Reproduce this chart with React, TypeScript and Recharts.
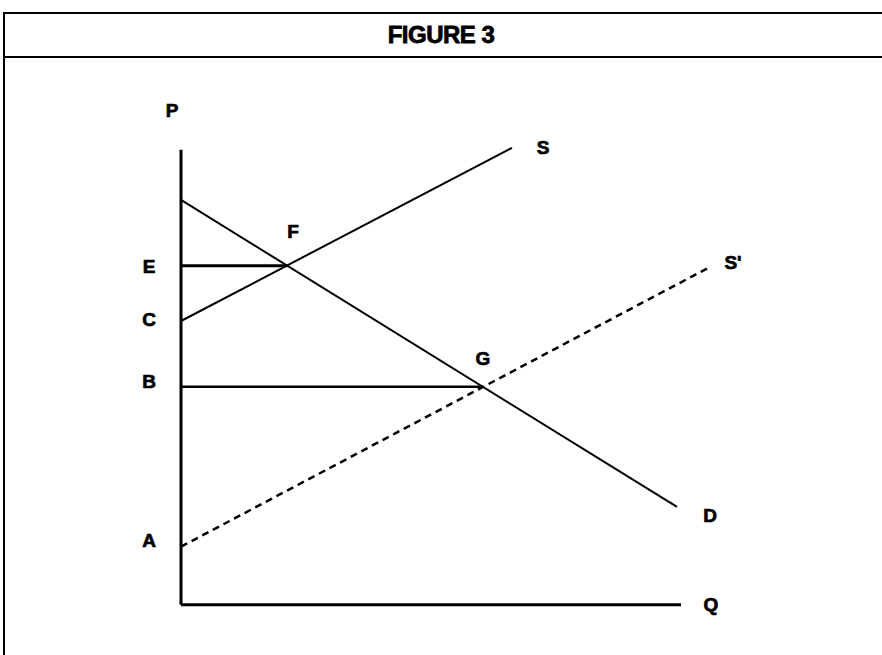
import { ComposedChart, Line, Scatter, XAxis, YAxis } from 'recharts';

// all values in chart units: q along the quantity axis, p along the price axis
const priceAxis = [{ q: 0, p: 0 }, { q: 0, p: 99.6 }];
const quantityAxis = [{ q: 0, p: 0 }, { q: 100, p: 0 }];
const demand = [{ q: 0, p: 88.6 }, { q: 99.2, p: 21.4 }];
const supply = [{ q: 0, p: 62.1 }, { q: 66.2, p: 100 }];
const supplyShifted = [{ q: 0, p: 12.7 }, { q: 105.4, p: 73.7 }];
const priceE = [{ q: 0, p: 74.2 }, { q: 21.2, p: 74.2 }];
const priceB = [{ q: 0, p: 47.7 }, { q: 60.4, p: 47.7 }];

const labels = [
  { name: 'P', q: -1.8, p: 108.1 },
  { name: 'E', q: -6.4, p: 74.0 },
  { name: 'C', q: -6.4, p: 62.4 },
  { name: 'B', q: -6.4, p: 48.8 },
  { name: 'A', q: -6.4, p: 14.0 },
  { name: 'F', q: 22.4, p: 81.6 },
  { name: 'G', q: 60.4, p: 53.8 },
  { name: 'S', q: 72.4, p: 100.0 },
  { name: "S'", q: 110.4, p: 74.9 },
  { name: 'D', q: 105.8, p: 19.5 },
  { name: 'Q', q: 106, p: 0 },
];

const font = '"Liberation Sans", Arial, sans-serif';

const LabelText = (props: any) => (
  <text
    x={props.cx}
    y={props.cy}
    textAnchor="middle"
    dominantBaseline="central"
    fontFamily={font}
    fontWeight={700}
    fontSize={19}
    fill="#000"
    stroke="#000"
    strokeWidth={0.7}
  >
    {props.payload.name}
  </text>
);

export default function App() {
  const seg = (data: { q: number; p: number }[], w: number, dash?: string) => (
    <Line
      data={data}
      dataKey="p"
      type="linear"
      stroke="#000"
      strokeWidth={w}
      strokeDasharray={dash}
      dot={false}
      activeDot={false}
      legendType="none"
      isAnimationActive={false}
    />
  );

  return (
    <div style={{ position: 'absolute', left: 0, top: 0, width: 882, height: 655, overflow: 'hidden', background: '#fff' }}>
      <div style={{ position: 'absolute', left: 3, top: 12, width: 920, height: 700, border: '2px solid #000' }} />
      <div style={{ position: 'absolute', left: 3, top: 56, width: 920, height: 2, background: '#000' }} />
      <div
        style={{
          position: 'absolute',
          left: 0,
          top: 14,
          width: 882,
          height: 42,
          lineHeight: '42px',
          textAlign: 'center',
          fontFamily: font,
          fontWeight: 700,
          fontSize: 24,
          letterSpacing: -0.5,
          WebkitTextStroke: '0.8px #000',
        }}
      >
        FIGURE 3
      </div>
      <div style={{ position: 'absolute', left: 0, top: 0 }}>
        <ComposedChart width={882} height={655} margin={{ top: 93, right: 101, bottom: 32, left: 131 }}>
          <XAxis type="number" dataKey="q" domain={[-10, 120]} hide allowDataOverflow />
          <YAxis type="number" dataKey="p" domain={[-4, 112]} hide allowDataOverflow />
          {seg(priceAxis, 3)}
          {seg(quantityAxis, 3)}
          {seg(priceE, 3)}
          {seg(priceB, 2.5)}
          {seg(demand, 2)}
          {seg(supply, 2)}
          {seg(supplyShifted, 2.5, '7 5')}
          <Scatter data={labels} dataKey="p" shape={LabelText} isAnimationActive={false} />
        </ComposedChart>
      </div>
    </div>
  );
}
